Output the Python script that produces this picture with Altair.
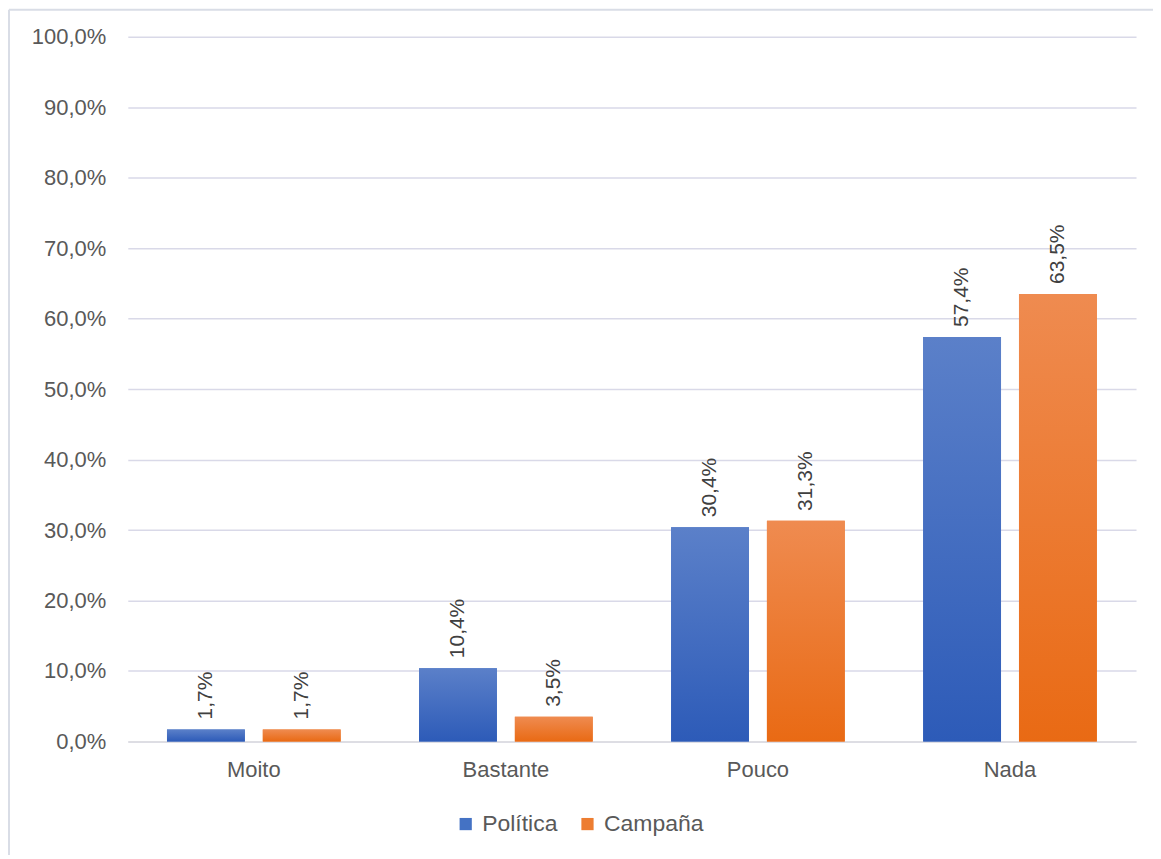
import altair as alt
import pandas as pd

categories = ["Moito", "Bastante", "Pouco", "Nada"]
series = ["Política", "Campaña"]
politica = [1.7, 10.4, 30.4, 57.4]
campana = [1.7, 3.5, 31.3, 63.5]
y_ticks = [0, 10, 20, 30, 40, 50, 60, 70, 80, 90, 100]

rows = []
for c, v in zip(categories, politica):
    rows.append({"cat": c, "serie": series[0], "val": v})
for c, v in zip(categories, campana):
    rows.append({"cat": c, "serie": series[1], "val": v})
df = pd.DataFrame(rows)

FONT = "Liberation Sans"
TXT = "#595959"

x_enc = alt.X("cat:N", sort=categories, title=None,
              scale=alt.Scale(paddingInner=0.311, paddingOuter=0.1555),
              axis=alt.Axis(labelAngle=0, ticks=False, domainColor="#d9d9d9",
                            labelFontSize=22, labelColor=TXT, labelFont=FONT,
                            labelPadding=18, grid=False))
xo_enc = alt.XOffset("serie:N", sort=series,
                     scale=alt.Scale(domain=series, paddingInner=0.1875, paddingOuter=0))
y_enc = alt.Y("val:Q", title=None,
              scale=alt.Scale(domain=[0, 100], nice=False),
              axis=alt.Axis(values=y_ticks, domain=False, ticks=False,
                            labelExpr="replace(format(datum.value, '.1f'), '.', ',') + '%'",
                            labelFontSize=22, labelColor=TXT, labelFont=FONT,
                            labelPadding=22, gridColor="#d9d9e8", gridWidth=1.5))

base = alt.Chart(df)

legend_bars = base.mark_bar().encode(
    x=x_enc, xOffset=xo_enc, y=y_enc,
    color=alt.Color("serie:N", sort=series,
                    scale=alt.Scale(domain=series, range=["#4472c4", "#ed7d31"]),
                    legend=alt.Legend(title=None, orient="none", direction="horizontal",
                                      legendX=327, legendY=777, symbolType="square",
                                      symbolSize=150, labelFontSize=23, labelFont=FONT,
                                      labelColor=TXT, columnPadding=18, labelOffset=5,
                                      symbolStrokeWidth=0))
)

blue_grad = alt.Gradient(gradient="linear", x1=0, y1=0, x2=0, y2=1,
                         stops=[alt.GradientStop(color="#5b80c9", offset=0),
                                alt.GradientStop(color="#2d5bb8", offset=1)])
orange_grad = alt.Gradient(gradient="linear", x1=0, y1=0, x2=0, y2=1,
                           stops=[alt.GradientStop(color="#ef8b50", offset=0),
                                  alt.GradientStop(color="#e96a14", offset=1)])

blue_bars = base.transform_filter(alt.datum.serie == series[0]).mark_bar(
    color=blue_grad).encode(x=x_enc, xOffset=xo_enc, y=y_enc)
orange_bars = base.transform_filter(alt.datum.serie == series[1]).mark_bar(
    color=orange_grad).encode(x=x_enc, xOffset=xo_enc, y=y_enc)

labels = base.transform_calculate(
    lab="replace(format(datum.val, '.1f'), '.', ',') + '%'"
).mark_text(angle=270, align="left", baseline="middle", dx=10,
            fontSize=21, font=FONT, color="#404040").encode(
    x=x_enc, xOffset=xo_enc, y=y_enc, text="lab:N")

border_data = alt.Data(values=[{"k": 1}])
left_border = alt.Chart(border_data).mark_rule(color="#d9dde6", strokeWidth=2).encode(
    x=alt.value(-119), y=alt.value(-27), y2=alt.value(830))
top_border = alt.Chart(border_data).mark_rule(color="#d9dde6", strokeWidth=2).encode(
    x=alt.value(-119), x2=alt.value(1040), y=alt.value(-27))

chart = alt.layer(legend_bars, blue_bars, orange_bars, labels, left_border, top_border).properties(
    width=1010, height=706,
    padding={"left": 120, "top": 28, "right": 17, "bottom": 113},
    autosize="none",
    background="white",
).configure_view(stroke=None)

chart.save("out.html", embed_options={"renderer": "svg", "actions": False})
